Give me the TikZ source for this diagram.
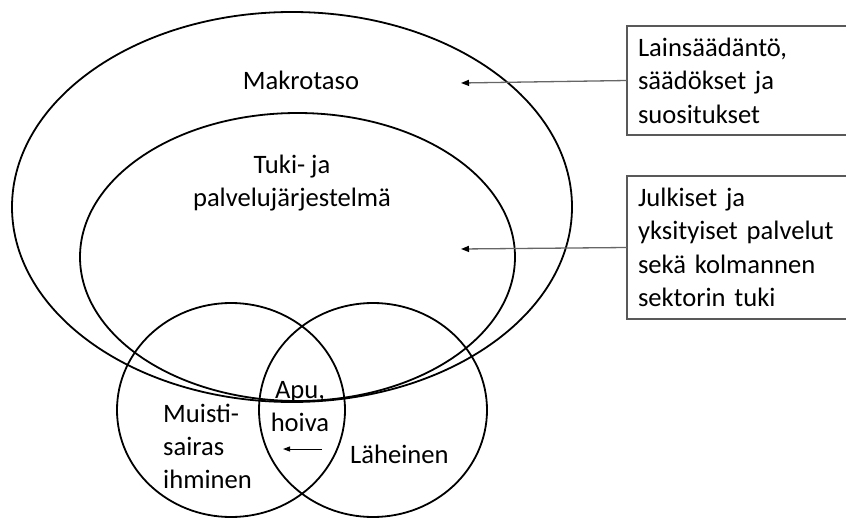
\documentclass[tikz,border=0pt]{standalone}
\usepackage{fontspec}
\setmainfont{Carlito}
\usetikzlibrary{arrows.meta,shapes.geometric}
\begin{document}
\begin{tikzpicture}[x=1pt,y=-1pt,
  ring/.style={draw=black, line width=1.8pt, ellipse, inner sep=0pt, outer sep=0pt},
  lbl/.style={font=\fontsize{26.6}{33}\selectfont, inner sep=0pt},
  infobox/.style={draw=black!65, line width=1.2pt, anchor=north west, inner xsep=11pt, inner ysep=0pt,
    text width=230pt, align=left, font=\fontsize{26.6}{33.5}\selectfont, outer sep=0pt},
  pointer/.style={draw=black!60, line width=1.3pt, -{Triangle[length=8pt,width=6pt,fill=black,color=black]}},
  smallptr/.style={draw=black, line width=1pt, -{Triangle[length=7pt,width=5pt]}},
]
\useasboundingbox (0,0) rectangle (846,519);
\clip (0,0) rectangle (846,519);

% ellipses
\node[ring, minimum width=560pt, minimum height=390pt] (macro) at (292,207) {};
\node[ring, minimum width=435pt, minimum height=288pt] (support) at (297.5,257) {};
\node[ring, minimum width=228pt, minimum height=214pt] (person) at (231,410) {};
\node[ring, minimum width=228pt, minimum height=214pt] (relative) at (373,410) {};

% labels (base anchor = baseline of the last line)
\node[lbl, anchor=base] (tmacro) at (301,89) {Makrotaso};
\node[lbl, anchor=base, align=center] (tsupport) at (292,206) {Tuki- ja\\palvelujärjestelmä};
\node[lbl, anchor=base, align=center] (thelp) at (300,431) {Apu,\\hoiva};
\node[lbl, anchor=base west, align=left] (tperson) at (163,488) {Muisti-\\sairas\\ihminen};
\node[lbl, anchor=base west] (trelative) at (350,463) {Läheinen};

% boxes
\node[infobox, minimum height=109pt] (b1) at (627,26) {Lainsäädäntö,\\säädökset ja\\suositukset};
\node[infobox, minimum height=143pt] (b2) at (627,176) {Julkiset ja\\yksityiset palvelut\\sekä kolmannen\\sektorin tuki};

% arrows
\coordinate (t1) at (461,83);
\coordinate (t2) at (461,249);
\draw[pointer] (b1.west) -- (t1);
\draw[pointer] (b2.west) -- (t2);

\coordinate (s1) at (322,449);
\coordinate (s2) at (283,449);
\draw[smallptr] (s1) -- (s2);
\end{tikzpicture}
\end{document}
